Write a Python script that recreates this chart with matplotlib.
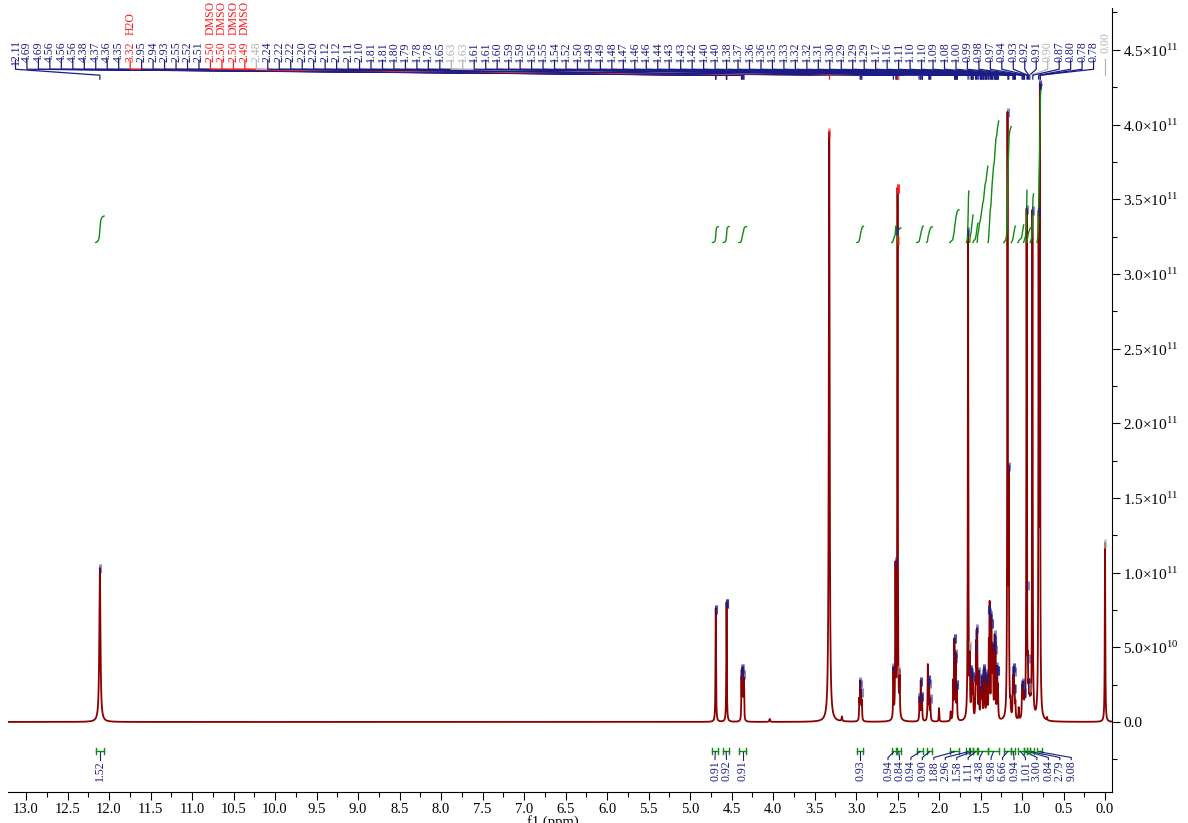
import numpy as np
import matplotlib
matplotlib.use("Agg")
import matplotlib.pyplot as plt
from matplotlib.collections import LineCollection
from matplotlib.ticker import MultipleLocator, FuncFormatter, FormatStrFormatter

plt.rcParams['font.family'] = ['Liberation Serif', 'DejaVu Serif']
plt.rcParams['mathtext.fontset'] = 'custom'
plt.rcParams['mathtext.rm'] = 'Liberation Serif'

# peaks: position (ppm), height (x1e11), half width (ppm)
peak_ppm = [12.11, 4.69, 4.56, 4.38, 4.37, 4.36, 4.35, 4.04, 3.323, 3.17,
            2.96, 2.95, 2.94, 2.93, 2.55, 2.525, 2.50, 2.475,
            2.235, 2.22, 2.205, 2.135, 2.12, 2.105, 2.00,
            1.86, 1.83, 1.815, 1.80, 1.785, 1.65,
            1.63, 1.61, 1.60, 1.59, 1.56, 1.55, 1.54, 1.52, 1.50, 1.49, 1.48,
            1.46, 1.45, 1.43, 1.42, 1.40, 1.39, 1.37, 1.36, 1.35, 1.33, 1.32,
            1.30, 1.29, 1.175, 1.16, 1.14, 1.11, 1.10, 1.09, 1.08,
            1.04, 1.00, 0.99, 0.98, 0.97, 0.945, 0.93, 0.92, 0.91, 0.90,
            0.875, 0.80, 0.785, 0.70, 0.00]
peak_h = [1.03, 0.76, 0.80, 0.27, 0.31, 0.31, 0.26, 0.02, 3.95, 0.03,
          0.13, 0.24, 0.17, 0.12, 0.33, 1.00, 3.55, 0.28,
          0.15, 0.26, 0.16, 0.37, 0.26, 0.14, 0.09,
          0.06, 0.25, 0.52, 0.42, 0.22, 3.27,
          0.40, 0.28, 0.25, 0.20, 0.22, 0.45, 0.55, 0.30, 0.18, 0.17, 0.25,
          0.30, 0.30, 0.25, 0.20, 0.45, 0.72, 0.62, 0.38, 0.42, 0.50, 0.45,
          0.32, 0.20, 4.00, 1.50, 0.08, 0.25, 0.30, 0.18, 0.10,
          0.08, 0.20, 0.20, 0.13, 0.10, 3.40, 0.25, 0.15, 0.12, 0.12,
          3.40, 3.20, 4.10, 0.02, 1.20]
peak_w = [0.008, 0.0035, 0.0035, 0.003, 0.003, 0.003, 0.003, 0.005, 0.006, 0.005] + \
         [0.0035] * (len(peak_ppm) - 10)

# peak picking labels (top)
pick_ppm = [12.11, 4.69, 4.69, 4.56, 4.56, 4.56, 4.38, 4.37, 4.36, 4.35,
            3.32, 2.95, 2.94, 2.93, 2.55, 2.52, 2.51, 2.50, 2.50, 2.50,
            2.49, 2.48, 2.24, 2.22, 2.22, 2.20, 2.20, 2.12, 2.12, 2.11,
            2.10, 1.81, 1.81, 1.80, 1.79, 1.78, 1.78, 1.65, 1.63, 1.63,
            1.61, 1.61, 1.60, 1.59, 1.59, 1.56, 1.55, 1.54, 1.52, 1.50,
            1.49, 1.49, 1.48, 1.47, 1.46, 1.46, 1.44, 1.43, 1.43, 1.42,
            1.40, 1.40, 1.38, 1.37, 1.36, 1.36, 1.35, 1.33, 1.32, 1.32,
            1.31, 1.30, 1.29, 1.29, 1.29, 1.17, 1.16, 1.11, 1.10, 1.10,
            1.09, 1.08, 1.00, 0.99, 0.98, 0.97, 0.94, 0.93, 0.92, 0.91,
            0.90, 0.87, 0.80, 0.78, 0.78]
solvent_tags = {10: 'H2O', 17: 'DMSO', 18: 'DMSO', 19: 'DMSO', 20: 'DMSO'}
grey_picks = [21, 38, 39, 90]
ref_ppm = 0.00

# integrals
int_from = [12.16, 4.73, 4.60, 4.41, 2.99, 2.57, 2.51, 2.27, 2.15, 1.87, 1.67,
            1.63, 1.59, 1.54, 1.41, 1.22, 1.13, 1.05, 0.98, 0.94, 0.90, 0.82]
int_to = [12.06, 4.66, 4.53, 4.32, 2.91, 2.52, 2.46, 2.19, 2.08, 1.76, 1.64,
          1.59, 1.53, 1.41, 1.28, 1.13, 1.08, 0.98, 0.94, 0.90, 0.86, 0.76]
int_val = [1.52, 0.91, 0.92, 0.91, 0.93, 0.94, 0.84, 0.94, 0.90, 1.88, 2.96,
           1.58, 1.11, 4.38, 6.98, 6.66, 0.94, 1.01, 3.00, 0.84, 2.79, 9.08]

NAVY = '#1c1c86'
RED = '#ff1a1a'
GREY = '#b4b4b4'
GREEN = '#108a10'
TRACE = '#8b0000'


def spread(targets, gap, lo, hi):
    targets = np.asarray(targets, float)
    groups = []
    for i, t in enumerate(targets):
        groups.append([i, i + 1, t])
        while len(groups) > 1:
            a, b = groups[-2], groups[-1]
            na, nb = a[1] - a[0], b[1] - b[0]
            if (b[2] - (nb - 1) * gap / 2) - (a[2] + (na - 1) * gap / 2) >= gap:
                break
            groups[-2:] = [[a[0], b[1], targets[a[0]:b[1]].mean()]]
    pos = np.empty(len(targets))
    for s, e, c in groups:
        n = e - s
        pos[s:e] = c + (np.arange(n) - (n - 1) / 2) * gap
    if pos[-1] - pos[0] > hi - lo:
        return np.linspace(lo, hi, len(pos))
    return pos + max(lo - pos[0], 0) + min(hi - pos[-1], 0)


ppm = np.linspace(13.3, -0.15, 80000)
spec = np.zeros_like(ppm)
for p, h, w in zip(peak_ppm, peak_h, peak_w):
    spec += h / (1 + ((ppm - p) / w) ** 2)

fig = plt.figure(figsize=(11.88, 8.23), dpi=100)
ax = fig.add_axes([8 / 1188, 31 / 823, 1104 / 1188, 784 / 823])
ax.set_xlim(13.217, -0.084)
ax.set_ylim(-0.469, 4.78)

ax.plot(ppm, spec, color=TRACE, lw=1.3, zorder=3)

# integral curves and brackets
labels_x = -spread(-(np.array(int_from) + np.array(int_to)) / 2, 0.138, -13.1, 0.0)
for a, b, v, lx in zip(int_from, int_to, int_val, labels_x):
    m = (ppm <= a) & (ppm >= b)
    cum = np.cumsum(spec[m])
    ax.plot(ppm[m], 3.21 + v * 0.1165 * cum / cum[-1], color=GREEN, lw=1.0, zorder=4)
    ax.plot([a, b], [-0.194, -0.194], color=GREEN, lw=1.0)
    ax.plot([a, a], [-0.216, -0.172], color=GREEN, lw=1.0)
    ax.plot([b, b], [-0.216, -0.172], color=GREEN, lw=1.0)
    c = (a + b) / 2
    ax.plot([c, lx, lx], [-0.200, -0.238, -0.252], color=NAVY, lw=0.8)
    ax.text(lx, -0.258, f'{v:.2f}', rotation=90, ha='center', va='top',
            fontsize=8.5, color=NAVY)

# peak picking fan
lab_x = -spread(-np.array(pick_ppm), 0.138, -13.127, -0.138)
segs, cols = [], []
for i, (p, lx) in enumerate(zip(pick_ppm, lab_x)):
    col = RED if i in solvent_tags else (GREY if i in grey_picks else NAVY)
    segs.append([(lx, 4.435), (lx, 4.37), (p, 4.33), (p, 4.30)])
    cols.append(col)
    ax.text(lx, 4.487, f'{p:.2f}', rotation=90, ha='center', va='center',
            fontsize=8.5, color=col)
    if i in solvent_tags:
        ax.text(lx, 4.60, solvent_tags[i], rotation=90, ha='center', va='bottom',
                fontsize=8.5, color=RED)
    near = (ppm <= p + 0.009) & (ppm >= p - 0.009)
    top = spec[near].max()
    ax.plot([p, p], [top - 0.035, top + 0.025], color=col, lw=2.2, alpha=0.5,
            solid_capstyle='butt', zorder=5)
ax.add_collection(LineCollection(segs, colors=cols, linewidths=0.9))
ax.text(ref_ppm, 4.55, f'{ref_ppm:.2f}', rotation=90, ha='center', va='center',
        fontsize=8.5, color=GREY)
ax.plot([ref_ppm, ref_ppm], [4.44, 4.33], color=GREY, lw=0.9)
tms_top = spec[np.abs(ppm - ref_ppm) < 0.006].max()
ax.plot([ref_ppm, ref_ppm], [tms_top - 0.035, tms_top + 0.025], color=GREY, lw=2.2,
        alpha=0.7, solid_capstyle='butt', zorder=5)

# axes styling
for s in ('left', 'top'):
    ax.spines[s].set_visible(False)
ax.yaxis.tick_right()
ax.xaxis.set_major_locator(MultipleLocator(0.5))
ax.xaxis.set_minor_locator(MultipleLocator(0.25))
ax.xaxis.set_major_formatter(FormatStrFormatter('%.1f'))
ax.yaxis.set_major_locator(MultipleLocator(0.5))
ax.yaxis.set_minor_locator(MultipleLocator(0.25))


def ylab(v, pos):
    if abs(v) < 1e-9:
        return '0.0'
    if v < 1:
        return f'{v * 10:.1f}×10$^{{\\mathrm{{10}}}}$'
    return f'{v:.1f}×10$^{{\\mathrm{{11}}}}$'


ax.yaxis.set_major_formatter(FuncFormatter(ylab))
ax.tick_params(which='major', direction='out', length=6, width=0.8)
ax.tick_params(which='minor', direction='out', length=3.5, width=0.8)
ax.tick_params(axis='x', pad=2, labelsize=10.5)
ax.tick_params(axis='y', pad=2, labelsize=11)

fig.text(553 / 1188, 0.0095, 'f1 (ppm)', ha='center', va='top', fontsize=10.5)

fig.savefig('out.png', dpi=100)
